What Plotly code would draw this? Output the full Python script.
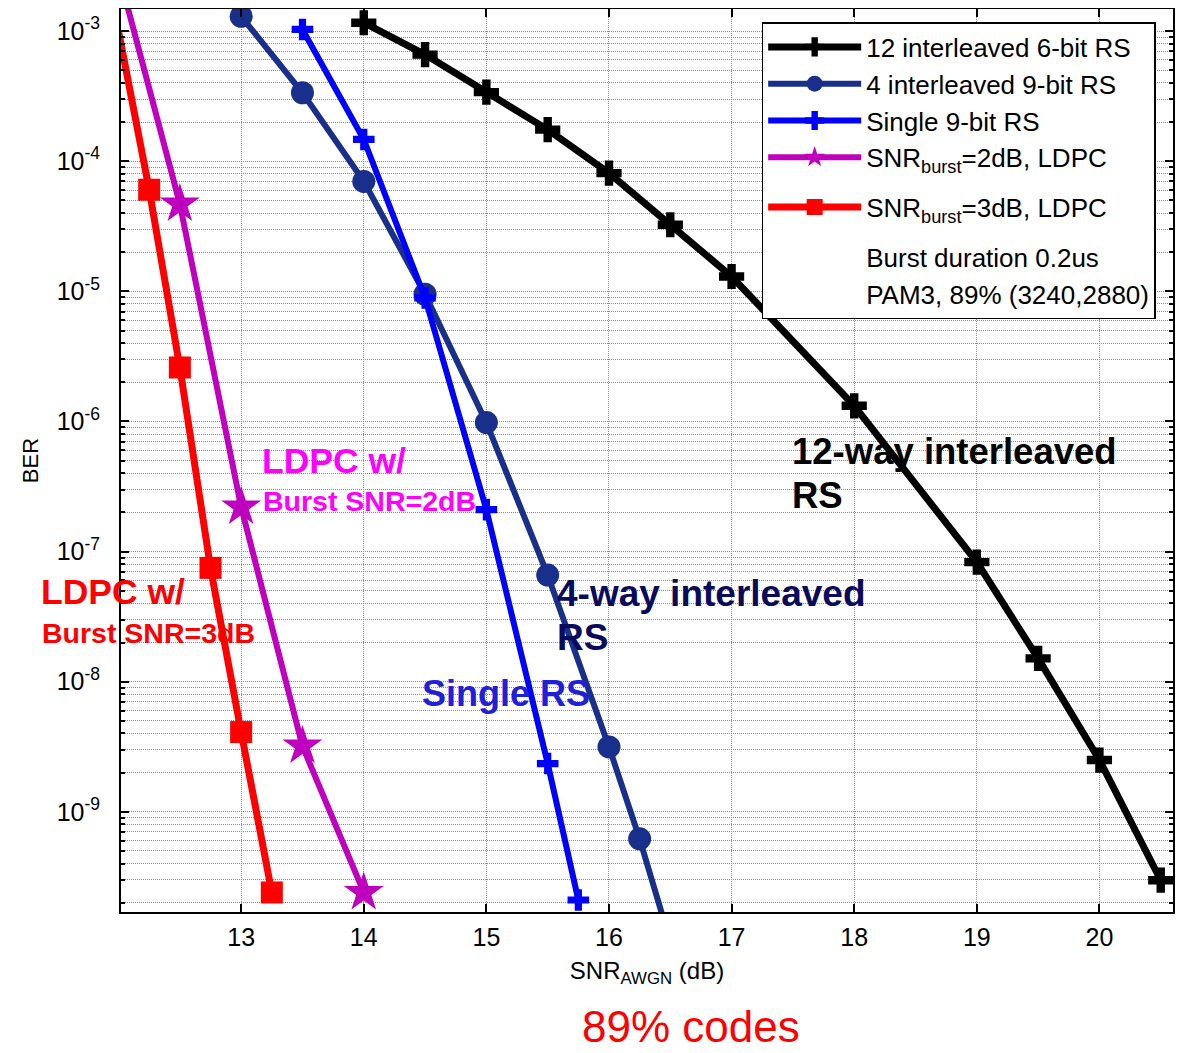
import plotly.graph_objects as go

# ---------------- data ----------------
snr_12way = [14, 14.5, 15, 15.5, 16, 16.5, 17, 18, 19, 19.5, 20, 20.5]
ber_12way = [1.16e-3, 6.6e-4, 3.4e-4, 1.75e-4, 8.1e-5, 3.25e-5, 1.3e-5, 1.32e-6, 8.3e-8, 1.51e-8, 2.5e-9, 2.98e-10]

snr_4way = [13, 13.5, 14, 14.5, 15, 15.5, 16, 16.25, 16.5]
ber_4way = [1.3e-3, 3.36e-4, 7.0e-5, 9.5e-6, 9.8e-7, 6.6e-8, 3.15e-9, 6.2e-10, 1.0e-10]

snr_single = [13.5, 14, 14.5, 15, 15.5, 15.75]
ber_single = [1.03e-3, 1.47e-4, 8.9e-6, 2.1e-7, 2.35e-9, 2.1e-10]

snr_ldpc2 = [12, 12.5, 13, 13.5, 14]
ber_ldpc2 = [2.8e-3, 4.7e-5, 2.2e-7, 3.2e-9, 2.4e-10]

snr_ldpc3 = [12, 12.25, 12.5, 12.75, 13, 13.25]
ber_ldpc3 = [1.0e-3, 6.04e-5, 2.6e-6, 7.5e-8, 4.1e-9, 2.4e-10]

x_ticks = [13, 14, 15, 16, 17, 18, 19, 20]
y_exps = [-9, -8, -7, -6, -5, -4, -3]

# ---------------- figure ----------------
C_BLACK = "#000000"
C_NAVY = "#182f8c"
C_BLUE = "#0000ff"
C_MAG = "#bf00bf"
C_RED = "#ff0000"
FONT = "Liberation Sans, Arial"

fig = go.Figure()

fig.add_trace(go.Scatter(
    x=snr_12way, y=ber_12way, mode="lines+markers", name="12 interleaved 6-bit RS",
    legendgroup="a",
    line=dict(color=C_BLACK, width=7),
    marker=dict(symbol="cross", size=21, color=C_BLACK, opacity=1, line=dict(width=0))))

fig.add_trace(go.Scatter(
    x=snr_4way, y=ber_4way, mode="lines+markers", name="4 interleaved 9-bit RS",
    legendgroup="a",
    line=dict(color=C_NAVY, width=6),
    marker=dict(symbol="circle", size=23, color=C_NAVY, opacity=1, line=dict(width=0))))

fig.add_trace(go.Scatter(
    x=snr_single, y=ber_single, mode="lines+markers", name="Single 9-bit RS",
    legendgroup="a",
    line=dict(color=C_BLUE, width=6),
    marker=dict(symbol="cross", size=18, color=C_BLUE, opacity=1, line=dict(width=0))))

fig.add_trace(go.Scatter(
    x=snr_ldpc2, y=ber_ldpc2, mode="lines+markers", name="SNR<sub>burst</sub>=2dB, LDPC",
    legendgroup="a",
    line=dict(color=C_MAG, width=6),
    marker=dict(symbol="star", size=30, color=C_MAG, opacity=1, line=dict(width=0))))

fig.add_trace(go.Scatter(
    x=snr_ldpc3, y=ber_ldpc3, mode="lines+markers", name="SNR<sub>burst</sub>=3dB, LDPC",
    legendgroup="b",
    line=dict(color=C_RED, width=7),
    marker=dict(symbol="square", size=[0] + [22] * (len(snr_ldpc3) - 1), color=C_RED,
                opacity=1, line=dict(width=0))))

for txt in ["Burst duration 0.2us", "PAM3, 89% (3240,2880)"]:
    fig.add_trace(go.Scatter(
        x=[None], y=[None], mode="lines", name=txt, legendgroup="c",
        line=dict(color="rgba(0,0,0,0)", width=0), hoverinfo="skip"))

GRID = "#8c8c8c"
fig.update_xaxes(
    range=[12.02, 20.6], tickvals=x_ticks, ticktext=[str(v) for v in x_ticks],
    showline=True, linecolor="black", linewidth=2, mirror="ticks",
    ticks="inside", ticklen=8, tickcolor="black", tickwidth=1.5,
    showgrid=True, gridcolor=GRID, gridwidth=1, griddash="1px,1px",
    zeroline=False, ticklabelstandoff=2, automargin=False,
    tickfont=dict(family=FONT, size=25, color="black"),
    title=dict(text="SNR<sub>AWGN</sub> (dB)", standoff=12,
               font=dict(family=FONT, size=24, color="black")))

fig.update_yaxes(
    type="log", range=[-9.77, -2.83],
    tickvals=[10.0 ** e for e in y_exps],
    ticktext=["10<sup>%d</sup>" % e for e in y_exps],
    showline=True, linecolor="black", linewidth=2, mirror="ticks",
    ticks="inside", ticklen=8, tickcolor="black", tickwidth=1.5,
    showgrid=True, gridcolor=GRID, gridwidth=1, griddash="1px,1px",
    minor=dict(showgrid=True, gridcolor=GRID, gridwidth=1, griddash="1px,1px",
               ticks="inside", ticklen=4, tickcolor="black", dtick="D1"),
    zeroline=False, ticklabelstandoff=14, automargin=False,
    tickfont=dict(family=FONT, size=25, color="black"),
    title=dict(text="BER", standoff=12,
               font=dict(family=FONT, size=22, color="black")))


def label(text, x, y, color, size, bold=True):
    fig.add_annotation(
        text=("<b>%s</b>" % text) if bold else text, x=x, y=y, xref="paper", yref="paper",
        xanchor="left", yanchor="middle", showarrow=False,
        font=dict(family=FONT, size=size, color=color))


label("LDPC w/", 0.132, 0.499, "#ff00ff", 35.5)
label("Burst SNR=2dB", 0.133, 0.455, "#ff00ff", 28.5)
label("LDPC w/", -0.078, 0.354, "#ff0000", 35.5)
label("Burst SNR=3dB", -0.077, 0.3095, "#ff0000", 28.5)
label("12-way interleaved", 0.636, 0.510, "#000000", 36.5)
label("RS", 0.636, 0.461, "#000000", 36.5)
label("4-way interleaved", 0.413, 0.353, "#0a0a5c", 37)
label("RS", 0.413, 0.304, "#0a0a5c", 37)
label("Single RS", 0.284, 0.242, "#2020d8", 36)
label("89% codes", 0.4363, -0.1265, "#ff0000", 44, bold=False)

# the page body adds an 8px offset, so the figure is 8px smaller and margins shifted
fig.update_layout(
    width=1180, height=1045,
    margin=dict(l=113, r=15, t=1, b=141, autoexpand=False),
    paper_bgcolor="white", plot_bgcolor="white",
    font=dict(family=FONT, color="black"),
    showlegend=True,
    legend=dict(
        x=0.609, y=0.9856, xanchor="left", yanchor="top",
        bgcolor="white", bordercolor="black", borderwidth=1.5,
        font=dict(family=FONT, size=26, color="black"),
        itemwidth=93, tracegroupgap=13, traceorder="grouped", groupclick="toggleitem"),
)

fig.write_html("out.html")
